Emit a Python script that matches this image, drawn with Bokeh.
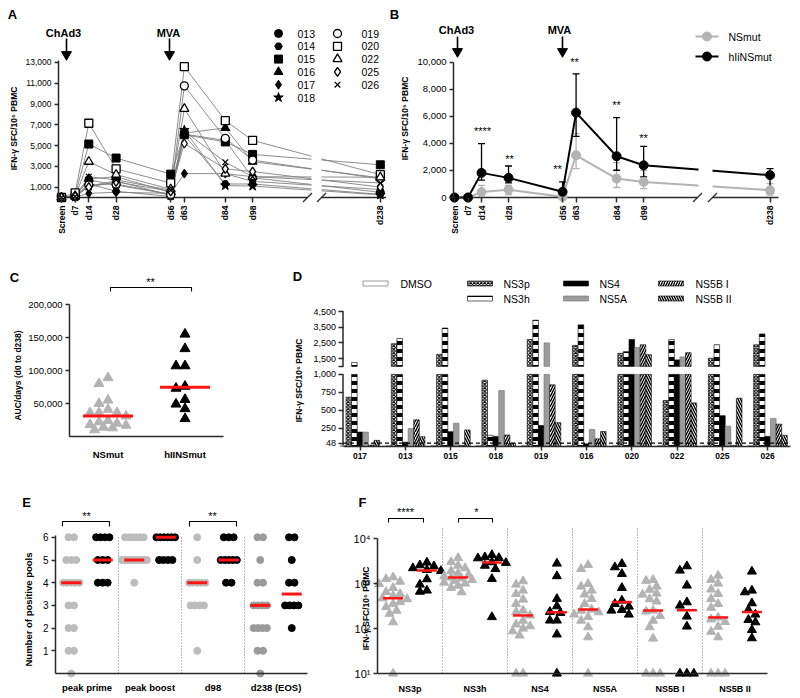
import math
from collections import Counter
import numpy as np
from bokeh.plotting import figure
from bokeh.models import Range1d, FixedTicker, NumeralTickFormatter, Label
from bokeh.layouts import row, column
from bokeh.embed import file_html
from bokeh.resources import INLINE

FONT = "Liberation Sans"
GRAY = "#b3b3b3"
RED = "#ff1414"

# ------------------------------------------------------------------ data
# A: individual IFN-g ELISpot responses
a_days = [0, 7, 14, 28, 56, 63, 84, 98, 238]
a_day_labels = ["Screen", "d7", "d14", "d28", "d56", "d63", "d84", "d98", "d238"]
a_subjects = ["013", "014", "015", "016", "017", "018", "019", "020", "022", "025", "026"]
a_013 = [0, 150, 1700, 1200, 300, 6100, 5500, 1900, 500]
a_014 = [0, 100, 1300, 600, 100, 6000, 1300, 1300, 300]
a_015 = [0, 200, 5150, 3800, 2250, 6050, 5350, 4150, 3150]
a_016 = [0, 100, 1800, 2000, 500, 6200, 6700, 3450, 1900]
a_017 = [0, 50, 400, 500, 400, 2300, 2300, 1550, 770]
a_018 = [0, 50, 1100, 1600, 200, 6500, 1150, 1100, 250]
a_019 = [0, 150, 1200, 1300, 300, 10750, 5700, 3600, 1800]
a_020 = [0, 450, 7150, 2750, 1400, 12600, 7400, 5500, 2200]
a_022 = [0, 150, 3450, 2200, 800, 8550, 2300, 2000, 1950]
a_025 = [0, 100, 1000, 1500, 600, 5200, 2750, 2500, 1000]
a_026 = [0, 100, 2000, 1700, 700, 6400, 3400, 2000, 1400]

# B: group means with error bars
b_ns_mean = [0, 0, 400, 580, 50, 3120, 1400, 1150, 540]
b_ns_low = [0, 0, 50, 220, 0, 2140, 740, 660, 170]
b_ns_high = [0, 0, 900, 900, 50, 4720, 2580, 2000, 1030]
b_hi_mean = [0, 0, 1820, 1450, 420, 6270, 3050, 2380, 1650]
b_hi_low = [0, 0, 1280, 1080, 50, 4520, 2015, 1520, 300]
b_hi_high = [0, 0, 3980, 2330, 1150, 9140, 5900, 3780, 2140]

# C: AUC per vaccinee
c_groups = ["NSmut", "hIINSmut"]
c_nsmut = [41000, 24000, 13000, 31000, 20000, 14000, 80000, 36000, 89000,
           55000, 36000, 18000, 36000, 22000, 10000, 50000, 17000]
c_hiinsmut = [155000, 133000, 107000, 107000, 76000, 73000, 49000, 56000, 42000, 27000]

# D: responses per peptide pool
d_subjects = ["017", "013", "015", "018", "019", "016", "020", "022", "025", "026"]
d_pools = ["DMSO", "NS3p", "NS3h", "NS4", "NS5A", "NS5B I", "NS5B II"]
d_dmso = [15, 15, 15, 15, 15, 15, 15, 15, 15, 15]
d_ns3p = [684, 2450, 1770, 920, 2716, 2340, 1835, 638, 1520, 2380]
d_ns3h = [1250, 2780, 3450, 155, 3950, 3660, 1940, 2716, 2380, 3070]
d_ns4 = [200, 60, 206, 140, 292, 37, 2716, 1416, 427, 140]
d_ns5a = [200, 250, 323, 775, 2500, 236, 2213, 1605, 281, 390]
d_ns5bi = [20, 370, 15, 160, 856, 106, 2380, 1877, 15, 310]
d_ns5bii = [85, 135, 230, 45, 330, 208, 1750, 605, 670, 155]
d_threshold = 48

# E: number of positive pools
e_timepoints = ["peak prime", "peak boost", "d98", "d238 (EOS)"]
e_prime_ns = [6, 6, 5, 5, 5, 4, 4, 4, 4, 4, 3, 3, 2, 2, 1, 1, 0]
e_prime_hi = [6, 6, 6, 6, 5, 5, 5, 4, 4, 4]
e_boost_ns = [6, 6, 6, 6, 6, 6, 5, 5, 5, 5, 5, 5, 5, 5, 5, 5, 4]
e_boost_hi = [6, 6, 6, 6, 6, 6, 5, 5, 5, 5]
e_d98_ns = [6, 5, 4, 4, 4, 4, 4, 3, 3, 3, 3, 1]
e_d98_hi = [6, 6, 6, 5, 5, 5, 5, 5, 4, 4]
e_d238_ns = [6, 6, 5, 4, 4, 3, 3, 3, 3, 2, 2, 2, 2, 1, 1, 0]
e_d238_hi = [6, 6, 5, 4, 4, 3, 3, 3, 3, 2]

# F: peak responses per pool (log scale)
f_pools = ["NS3p", "NS3h", "NS4", "NS5A", "NS5B I", "NS5B II"]
f_ns3p_ns = [1380, 1270, 1100, 980, 800, 650, 590, 530, 470, 450, 390, 350, 300, 250, 213, 138, 10]
f_ns3p_hi = [2930, 2550, 2430, 2200, 2010, 1900, 1250, 950, 700, 660]
f_ns3h_ns = [3700, 3000, 2500, 2200, 1900, 1700, 1550, 1450, 1360, 1300, 1200, 1150, 1050, 1000, 900, 800, 640]
f_ns3h_hi = [4300, 3850, 3700, 3650, 2980, 2880, 2500, 2100, 1270, 180]
f_ns4_ns = [1127, 950, 699, 589, 441, 353, 251, 231, 195, 150, 123, 113, 100, 87, 70, 10, 10]
f_ns4_hi = [2780, 1460, 456, 313, 235, 223, 151, 151, 74, 10]
f_ns5a_ns = [2600, 2120, 985, 858, 699, 570, 456, 353, 264, 250, 230, 205, 180, 150, 107, 64, 10]
f_ns5a_hi = [2735, 2307, 1640, 801, 419, 353, 308, 260, 251, 205]
f_ns5bi_ns = [1200, 1150, 860, 730, 600, 570, 450, 400, 251, 240, 190, 150, 107, 60, 10, 10, 10]
f_ns5bi_hi = [2427, 1945, 903, 385, 324, 185, 111, 10, 10, 10]
f_ns5bii_ns = [1500, 1210, 1000, 740, 590, 456, 353, 290, 176, 160, 140, 110, 85, 64, 10, 10, 10]
f_ns5bii_hi = [1849, 699, 641, 365, 260, 205, 156, 138, 93, 61]


# ------------------------------------------------------------------ helpers
class Panel:
    """One figure whose frame covers the whole panel; axes are pinned inside it."""

    def __init__(self, box, xr, yr, ylog=False):
        fl, ft, fr, fb = box
        self.l, self.t, self.r, self.b = box
        self.xr, self.yr, self.ylog = xr, yr, ylog
        p = figure(width=fr - fl, height=fb - ft,
                   x_range=Range1d(*xr), y_range=Range1d(*yr),
                   y_axis_type="log" if ylog else "linear",
                   output_backend="svg", toolbar_location=None,
                   min_border_left=0, min_border_right=0,
                   min_border_top=0, min_border_bottom=0)
        p.xgrid.visible = False
        p.ygrid.visible = False
        p.outline_line_color = None
        p.background_fill_color = "white"
        p.border_fill_color = "white"
        for ax in p.axis:
            ax.axis_line_width = 1.5
            ax.axis_line_color = "#2a2a2a"
            ax.major_tick_line_width = 1.5
            ax.major_tick_line_color = "#2a2a2a"
            ax.minor_tick_line_color = None
            ax.major_label_text_font = FONT
            ax.major_label_text_color = "black"
        self.p = p

    def X(self, px):
        x0, x1 = self.xr
        return x0 + (px - self.l) / (self.r - self.l) * (x1 - x0)

    def DX(self, dpx):
        x0, x1 = self.xr
        return dpx / (self.r - self.l) * (x1 - x0)

    def Y(self, py):
        y0, y1 = self.yr
        f = (self.b - py) / (self.b - self.t)
        if self.ylog:
            return 10 ** (math.log10(y0) + f * (math.log10(y1) - math.log10(y0)))
        return y0 + f * (y1 - y0)

    def PY(self, v):
        y0, y1 = self.yr
        if self.ylog:
            f = (math.log10(v) - math.log10(y0)) / (math.log10(y1) - math.log10(y0))
        else:
            f = (v - y0) / (y1 - y0)
        return self.b - f * (self.b - self.t)

    def pin_axes(self, y_px, x_py, ybounds, xbounds):
        self.p.yaxis.fixed_location = self.X(y_px)
        self.p.xaxis.fixed_location = self.Y(x_py)
        self.p.yaxis.bounds = ybounds
        self.p.xaxis.bounds = xbounds

    def label(self, px, py, text, size, bold=False, align="center", angle=0.0, color="black"):
        self.p.add_layout(Label(x=self.X(px), y=self.Y(py), text=text, text_font=FONT,
                                text_font_size=f"{size}px",
                                text_font_style="bold" if bold else "normal",
                                text_align=align, text_baseline="middle",
                                angle=angle, text_color=color))

    def ylabel(self, px, py, text, size):
        self.label(px, py, text, size, bold=True, angle=math.pi / 2)

    def poly(self, pts, color="black", width=1.0, dash="solid"):
        self.p.line([self.X(x) for x, _ in pts], [self.Y(y) for _, y in pts],
                    line_color=color, line_width=width, line_dash=dash)

    def marker(self, px, py, **kw):
        self.p.scatter([self.X(px)], [self.Y(py)], **kw)


def lin_x(apx, aval, ppu, l, r):
    return (aval + (l - apx) / ppu, aval + (r - apx) / ppu)


def lin_y(apx, aval, ppu, t, b):
    return (aval - (b - apx) / ppu, aval + (apx - t) / ppu)


def swarm(ypx, step, dist, maxoff):
    n = len(ypx)
    order = sorted(range(n), key=lambda i: ypx[i])
    cands = [0.0]
    k = 1
    while k * step <= maxoff:
        cands += [-k * step, k * step]
        k += 1
    offs = [0.0] * n
    placed = []
    for i in order:
        y = ypx[i]
        chosen, bestd, bestc = None, -1, 0.0
        for c in cands:
            md = min([math.hypot(c - a, y - b) for a, b in placed] or [1e9])
            if md >= dist:
                chosen = c
                break
            if md > bestd:
                bestd, bestc = md, c
        if chosen is None:
            chosen = bestc
        offs[i] = chosen
        placed.append((chosen, y))
    return offs


def vacc_arrow(P, text, tx, ty, ax, y0, y1, yh):
    P.label(tx, ty, text, 11, bold=True)
    P.poly([(ax, y0), (ax, y1)], width=1.6)
    P.marker(ax, yh, marker="inverted_triangle", size=10, fill_color="black", line_color="black")


YLAB = "IFN-\u03b3 SFC/10\u2076 PBMC"
BREAK_POS = 163.5
a_pos = [d if d <= 98 else BREAK_POS for d in a_days]


def time_xaxis(p):
    p.xaxis.ticker = FixedTicker(ticks=a_pos)
    p.xaxis.major_label_overrides = {k: v for k, v in zip(a_pos, a_day_labels)}
    p.xaxis.major_label_orientation = math.pi / 2
    p.xaxis.axis_line_color = None
    p.xaxis.major_tick_in = 0
    p.xaxis.major_tick_out = 5
    p.xaxis.major_label_standoff = 3
    p.xaxis.major_label_text_font_size = "8.5px"
    p.xaxis.major_label_text_font_style = "bold"


def broken_baseline(P, x0, g0, g1, x1):
    P.poly([(x0, 197), (g0, 197)], color="#2a2a2a", width=1.5)
    P.poly([(g1, 197), (x1, 197)], color="#2a2a2a", width=1.5)
    for c in (g0, g1):
        P.poly([(c - 4.5, 201.5), (c + 4.5, 192.5)], color="#2a2a2a", width=1.2)


# ------------------------------------------------------------------ panel A
PA = Panel((0, 0, 386, 242), lin_x(61, 0, 1.95, 0, 386), lin_y(197, 0, 0.010385, 0, 242))
pa = PA.p
PA.pin_axes(58, 197, (0, PA.Y(60)), (PA.X(58), PA.X(386)))
pa.yaxis.ticker = FixedTicker(ticks=list(range(1000, 13001, 2000)))
pa.yaxis.formatter = NumeralTickFormatter(format="0,0")
pa.yaxis.major_tick_out = 4
pa.yaxis.major_tick_in = 0
pa.yaxis.major_label_standoff = 3
pa.yaxis.major_label_text_font_size = "8.5px"
time_xaxis(pa)

a_series = [a_013, a_014, a_015, a_016, a_017, a_018, a_019, a_020, a_022, a_025, a_026]
for vals in a_series:
    pa.line(a_pos, vals, line_color="#808080", line_width=0.9)
pa.quad(left=[PA.X(311)], right=[PA.X(321)], bottom=[PA.Y(199)], top=[PA.Y(140)],
        fill_color="white", line_color=None)
broken_baseline(PA, 58, 307, 321, 386)

a_marks = {
    "013": ("circle", 8, True), "014": ("hex", 7.5, True), "015": ("square", 8, True),
    "016": ("triangle", 9, True), "017": ("diamond", 9, True), "018": ("star", 10, True),
    "019": ("circle", 8, False), "020": ("square", 8, False), "022": ("triangle", 9, False),
    "025": ("diamond", 9, False), "026": ("x", 8, False),
}


def a_style(sid):
    m, s, filled = a_marks[sid]
    return dict(marker=m, size=s, fill_color="black" if filled else "white",
                line_color="black", line_width=1.0 if filled else 1.3)


for sid, vals in zip(a_subjects, a_series):
    pa.scatter(a_pos, vals, **a_style(sid))

for k, sid in enumerate(a_subjects):
    col, r_ = (0, k) if k < 6 else (1, k - 6)
    gx = [278, 337][col]
    tx = [297, 361][col]
    gy = 33 + 12.8 * r_
    PA.marker(gx, gy, **a_style(sid))
    PA.label(tx, gy, sid, 10.5, align="left")

vacc_arrow(PA, "ChAd3", 63, 32, 66, 38, 51, 54)
vacc_arrow(PA, "MVA", 168, 32, 169, 38, 51, 54)
PA.ylabel(13, 128, YLAB, 8.5)
PA.label(12, 14, "A", 13, bold=True)

# ------------------------------------------------------------------ panel B
PB = Panel((386, 0, 800, 242), lin_x(454, 0, 1.93, 386, 800), lin_y(197, 0, 0.01353, 0, 242))
pb = PB.p
PB.pin_axes(453, 197, (0, 10000), (PB.X(453), PB.X(778)))
pb.yaxis.ticker = FixedTicker(ticks=list(range(0, 10001, 2000)))
pb.yaxis.formatter = NumeralTickFormatter(format="0,0")
pb.yaxis.major_tick_out = 4
pb.yaxis.major_tick_in = 0
pb.yaxis.major_label_standoff = 3
pb.yaxis.major_label_text_font_size = "9.5px"
time_xaxis(pb)

b_sets = [(b_ns_mean, b_ns_low, b_ns_high, GRAY), (b_hi_mean, b_hi_low, b_hi_high, "black")]
cap = PB.DX(3.5)
for mean, lo, hi, colr in b_sets:
    pb.line(a_pos, mean, line_color=colr, line_width=2)
    idx = [i for i in range(len(a_pos)) if hi[i] > lo[i]]
    xs = [a_pos[i] for i in idx]
    los = [lo[i] for i in idx]
    his = [hi[i] for i in idx]
    pb.segment(xs, los, xs, his, line_color=colr, line_width=1.3)
    pb.segment([x - cap for x in xs], his, [x + cap for x in xs], his, line_color=colr, line_width=1.3)
    pb.segment([x - cap for x in xs], los, [x + cap for x in xs], los, line_color=colr, line_width=1.3)
pb.quad(left=[PB.X(698)], right=[PB.X(712)], bottom=[PB.Y(199)], top=[PB.Y(150)],
        fill_color="white", line_color=None)
broken_baseline(PB, 453, 697, 712, 778)
for mean, lo, hi, colr in b_sets:
    pb.scatter(a_pos, mean, marker="circle", size=9, fill_color=colr, line_color=colr)

for txt, sx, sy in [("****", 482, 130), ("**", 509, 158), ("**", 557, 168),
                    ("**", 574, 61), ("**", 616, 104), ("**", 643, 137)]:
    PB.label(sx, sy, txt, 11)

for colr, name, ly in [(GRAY, "NSmut", 36), ("black", "hIiNSmut", 56)]:
    PB.poly([(695, ly), (718, ly)], color=colr, width=2)
    PB.marker(706.5, ly, marker="circle", size=9, fill_color=colr, line_color=colr)
    PB.label(728, ly, name, 10.5, align="left")

vacc_arrow(PB, "ChAd3", 456, 29, 457, 36, 48, 51)
vacc_arrow(PB, "MVA", 559, 29, 562, 36, 48, 51)
PB.ylabel(404, 118, YLAB, 8.5)
PB.label(394, 14, "B", 13, bold=True)

# ------------------------------------------------------------------ panel C
PC = Panel((0, 242, 290, 468), lin_x(69, 0, 77, 0, 290), lin_y(436, 0, 0.00066, 242, 468))
pc = PC.p
PC.pin_axes(69, 436, (0, 200000), (0, 2))
pc.yaxis.ticker = FixedTicker(ticks=[50000, 100000, 150000, 200000])
pc.yaxis.formatter = NumeralTickFormatter(format="0,0")
pc.yaxis.major_tick_out = 4
pc.yaxis.major_tick_in = 0
pc.yaxis.major_label_standoff = 3
pc.yaxis.major_label_text_font_size = "9.5px"
pc.xaxis.ticker = FixedTicker(ticks=[0.5, 1.5])
pc.xaxis.major_label_overrides = {0.5: c_groups[0], 1.5: c_groups[1]}
pc.xaxis.major_tick_line_color = None
pc.xaxis.major_label_standoff = 6
pc.xaxis.major_label_text_font_size = "9.5px"
pc.xaxis.major_label_text_font_style = "bold"

for center, vals, colr in [(0.5, c_nsmut, GRAY), (1.5, c_hiinsmut, "black")]:
    offs = swarm([PC.PY(v) for v in vals], 4.5, 9, 24)
    pc.scatter([center + PC.DX(o) for o in offs], vals, marker="triangle", size=10,
               fill_color=colr, line_color=colr)
    med = float(np.median(vals))
    pc.segment([center - PC.DX(25)], [med], [center + PC.DX(25)], [med], line_color=RED, line_width=3)
PC.poly([(110, 291), (110, 287), (191, 287), (191, 291)], width=1.1)
PC.label(150, 281, "**", 11)
PC.ylabel(17, 375, "AUC/days (d0 to d238)", 8.5)
PC.label(14, 277, "C", 13, bold=True)

# ------------------------------------------------------------------ panel D
D_GAP = 111
D_K = 0.2173


def d_t(v):
    return v if v <= 1000 else 1000 + D_GAP + (v - 1000) * D_K


PD = Panel((290, 242, 800, 468), lin_x(359.5, 0, 45.3, 290, 800), lin_y(446, 0, 0.0721, 242, 468))
pdf = PD.p
PD.pin_axes(342.5, 446, (0, d_t(4500)), (PD.X(342.5), PD.X(790)))
low_ticks = [48, 250, 500, 750, 1000]
up_ticks = [1500, 2500, 3500, 4500]
tick_pos = low_ticks + [1000 + D_GAP] + [int(round(d_t(v))) for v in up_ticks]
tick_txt = ["48", "250", "500", "750", "1,000", ""] + [f"{v:,}" for v in up_ticks]
pdf.yaxis.ticker = FixedTicker(ticks=tick_pos)
pdf.yaxis.major_label_overrides = {k: v for k, v in zip(tick_pos, tick_txt)}
pdf.yaxis.axis_line_color = None
pdf.yaxis.major_tick_in = 0
pdf.yaxis.major_tick_out = 5
pdf.yaxis.major_label_standoff = 2
pdf.yaxis.major_label_text_font_size = "9px"
pdf.xaxis.ticker = FixedTicker(ticks=list(range(len(d_subjects))))
pdf.xaxis.major_label_overrides = {i: s for i, s in enumerate(d_subjects)}
pdf.xaxis.major_tick_out = 4
pdf.xaxis.major_tick_in = 0
pdf.xaxis.major_label_standoff = 2
pdf.xaxis.major_label_text_font_size = "8.5px"
pdf.xaxis.major_label_text_font_style = "bold"

axx = PD.X(342.5)
pdf.segment([axx, axx], [0, 1000 + D_GAP], [axx, axx], [1000, d_t(4500)],
            line_color="#2a2a2a", line_width=1.5)

d_styles = {
    "DMSO": dict(fill_color="white", line_color="#808080", line_width=0.8),
    "NS3p": dict(fill_color="white", line_color="black", line_width=0.6,
                 hatch_pattern="diagonal_cross", hatch_color="black", hatch_scale=3.5, hatch_weight=1.1),
    "NS3h": dict(fill_color="white", line_color="black", line_width=0.6,
                 hatch_pattern="horizontal_line", hatch_color="black", hatch_scale=8, hatch_weight=4),
    "NS4": dict(fill_color="black", line_color="black", line_width=0.6),
    "NS5A": dict(fill_color="#9c9c9c", line_color="#707070", line_width=0.6),
    "NS5B I": dict(fill_color="white", line_color="black", line_width=0.6,
                   hatch_pattern="right_diagonal_line", hatch_color="black", hatch_scale=5, hatch_weight=1.4),
    "NS5B II": dict(fill_color="white", line_color="black", line_width=0.6,
                    hatch_pattern="left_diagonal_line", hatch_color="black", hatch_scale=5, hatch_weight=1.4),
}
d_values = [d_dmso, d_ns3p, d_ns3h, d_ns4, d_ns5a, d_ns5bi, d_ns5bii]
bw = PD.DX(5.6)
for j, (pool, vals) in enumerate(zip(d_pools, d_values)):
    xs = [i + (j - 3) * bw for i in range(len(vals))]
    pdf.vbar(x=xs, width=bw, bottom=0, top=[min(v, 1000) for v in vals], **d_styles[pool])
    ux = [x for x, v in zip(xs, vals) if v > 1000]
    ut = [d_t(v) for v in vals if v > 1000]
    if ux:
        pdf.vbar(x=ux, width=bw, bottom=1000 + D_GAP, top=ut, **d_styles[pool])
pdf.segment([axx], [d_threshold], [PD.X(790)], [d_threshold], line_color="black",
            line_width=1.2, line_dash="4 3")

d_leg = {"DMSO": (375, 283, 400), "NS3p": (479.5, 283, 503), "NS3h": (479.5, 298, 503),
         "NS4": (575.5, 283, 599), "NS5A": (575.5, 298, 599),
         "NS5B I": (670.5, 283, 695), "NS5B II": (670.5, 298, 695)}
for pool in d_pools:
    cx, cy, tx = d_leg[pool]
    pdf.rect(x=[PD.X(cx)], y=[PD.Y(cy)], width=25, height=5, width_units="screen",
             height_units="screen", **d_styles[pool])
    PD.label(tx, cy, pool, 10.5, align="left")
PD.ylabel(298, 380, YLAB, 8.5)
PD.label(297, 276, "D", 13, bold=True)

# ------------------------------------------------------------------ panel E
PE = Panel((0, 468, 340, 697), lin_x(55, 0, 63, 0, 340), lin_y(673, 0, 22.7, 468, 697))
pe = PE.p
PE.pin_axes(55, 673, (0, PE.Y(535)), (0, 4))
pe.yaxis.ticker = FixedTicker(ticks=[1, 2, 3, 4, 5, 6])
pe.yaxis.major_tick_out = 4
pe.yaxis.major_tick_in = 0
pe.yaxis.major_label_standoff = 3
pe.yaxis.major_label_text_font_size = "10px"
pe.xaxis.ticker = FixedTicker(ticks=[0.5, 1.5, 2.5, 3.5])
pe.xaxis.major_label_overrides = {i + 0.5: s for i, s in enumerate(e_timepoints)}
pe.xaxis.major_tick_line_color = None
pe.xaxis.major_label_standoff = 2
pe.xaxis.major_label_text_font_size = "9.5px"
pe.xaxis.major_label_text_font_style = "bold"

for sep in (1, 2, 3):
    pe.segment([sep], [0], [sep], [PE.Y(535)], line_color="#777777", line_width=1, line_dash="1 2")


def row_offsets(n, d=5.5):
    if n == 1:
        return [0.0]
    s = d / (1 + 0.12 * (n - 2))
    return [(k - (n - 1) / 2) * s for k in range(n)]


e_sets = [(e_prime_ns, e_prime_hi), (e_boost_ns, e_boost_hi), (e_d98_ns, e_d98_hi), (e_d238_ns, e_d238_hi)]
for g, (ns, hi) in enumerate(e_sets):
    gcol = "#bcbcbc" if g < 3 else "#9a9a9a"
    for side, vals, colr in [(0.25, ns, gcol), (0.75, hi, "black")]:
        c = g + side
        cnt = Counter(vals)
        xs, ys = [], []
        for v in sorted(cnt):
            for o in row_offsets(cnt[v]):
                xs.append(c + PE.DX(o))
                ys.append(v)
        pe.scatter(xs, ys, marker="circle", size=7, fill_color=colr, line_color=colr)
        med = float(np.median(vals))
        pe.segment([c - PE.DX(10)], [med], [c + PE.DX(10)], [med], line_color=RED, line_width=3)
for x0, x1, tx in [(62, 109, 86), (189, 236, 212)]:
    PE.poly([(x0, 526), (x0, 521), (x1, 521), (x1, 526)], width=1.1)
    PE.label(tx, 515, "**", 11)
PE.ylabel(28, 609, "Number of positive pools", 9.5)
PE.label(26, 502, "E", 13, bold=True)

# ------------------------------------------------------------------ panel F
PF = Panel((340, 468, 800, 697), lin_x(377, 0, 65, 340, 800),
           (10 ** (1 - 24 / 45), 10 ** (1 + 205 / 45)), ylog=True)
pf = PF.p
PF.pin_axes(377, 673, (10, 10000), (0, 6))
pf.yaxis.ticker = FixedTicker(ticks=[10, 100, 1000, 10000])
pf.yaxis.major_label_overrides = {10: "10\u00b9", 100: "10\u00b2", 1000: "10\u00b3", 10000: "10\u2074"}
pf.yaxis.major_tick_out = 4
pf.yaxis.major_tick_in = 0
pf.yaxis.major_label_standoff = 3
pf.yaxis.major_label_text_font_size = "11px"
pf.xaxis.ticker = FixedTicker(ticks=[i + 0.5 for i in range(6)])
pf.xaxis.major_label_overrides = {i + 0.5: s for i, s in enumerate(f_pools)}
pf.xaxis.major_tick_line_color = None
pf.xaxis.major_label_standoff = 4
pf.xaxis.major_label_text_font_size = "9px"
pf.xaxis.major_label_text_font_style = "bold"

for sep in range(1, 6):
    PF.poly([(377 + 65 * sep, 673), (377 + 65 * sep, 527)], color="#777777", width=1, dash="1 2")

f_sets = [(f_ns3p_ns, f_ns3p_hi), (f_ns3h_ns, f_ns3h_hi), (f_ns4_ns, f_ns4_hi),
          (f_ns5a_ns, f_ns5a_hi), (f_ns5bi_ns, f_ns5bi_hi), (f_ns5bii_ns, f_ns5bii_hi)]
for g, (ns, hi) in enumerate(f_sets):
    for side, vals, colr in [(0.24, ns, GRAY), (0.76, hi, "black")]:
        c = g + side
        offs = swarm([PF.PY(v) for v in vals], 3.5, 7, 15)
        pf.scatter([c + PF.DX(o) for o in offs], vals, marker="triangle", size=9,
                   fill_color=colr, line_color=colr)
        med = float(np.median(vals))
        pf.segment([c - PF.DX(10)], [med], [c + PF.DX(10)], [med], line_color=RED, line_width=2.5)
PF.poly([(388, 522), (388, 518), (423, 518), (423, 522)], width=1.1)
PF.label(405, 511, "****", 11)
PF.poly([(458, 522), (458, 518), (492, 518), (492, 522)], width=1.1)
PF.label(476, 511, "*", 11)
PF.ylabel(365, 608, YLAB, 8.5)
PF.label(362, 502, "F", 13, bold=True)

layout = column(row(pa, pb), row(pc, pdf), row(pe, pf))
open("out.html", "w").write(file_html(layout, INLINE))
